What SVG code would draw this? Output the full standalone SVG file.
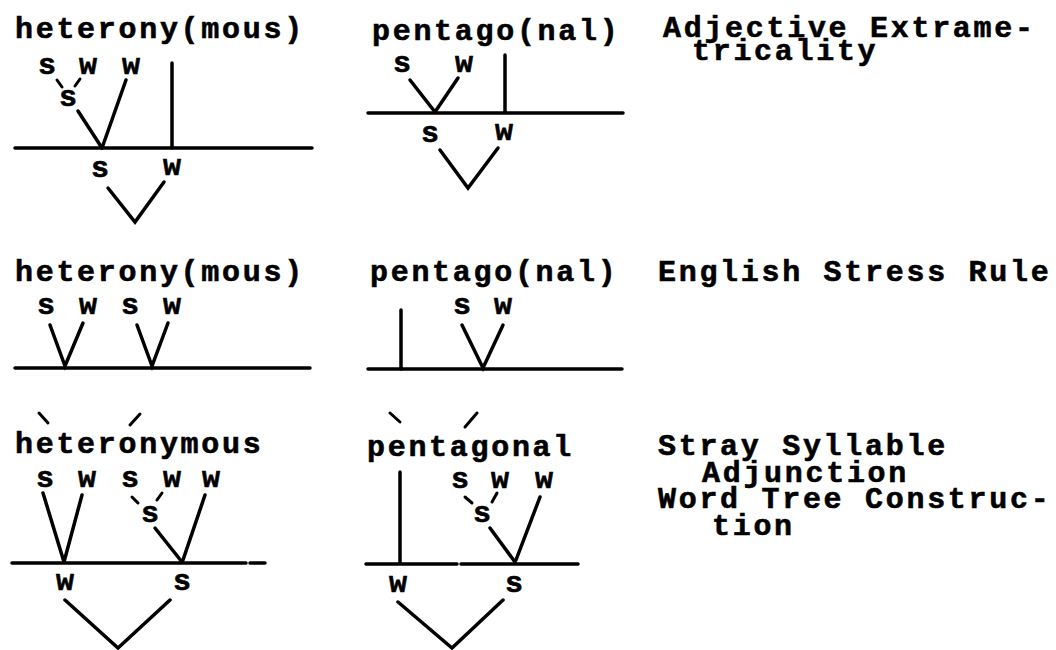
<svg xmlns="http://www.w3.org/2000/svg" width="1056" height="650" viewBox="0 0 1056 650">
<style>
text{font-family:"Liberation Mono","DejaVu Sans Mono",monospace;font-weight:bold;font-size:30px;fill:#000;stroke:#000;stroke-width:0.6;letter-spacing:2.7px}
.l{text-anchor:middle;letter-spacing:0}
line,polyline{stroke:#000;stroke-width:3.5;fill:none;stroke-linecap:round;stroke-linejoin:miter}
.t{stroke-width:3}
</style>
<rect width="1056" height="650" fill="#fff"/>

<g id="tree-heteronymous-aex">
<text x="15" y="38">heterony(mous)</text>
<text class="l" x="47" y="74">s</text><text class="l" x="88" y="74">w</text><text class="l" x="131" y="74">w</text>
<text class="l" x="68" y="106">s</text>
<text class="l" x="100" y="177">s</text><text class="l" x="172" y="175">w</text>
</g>
<g id="tree-pentagonal-aex">
<text x="372" y="40">pentago(nal)</text>
<text class="l" x="402" y="72">s</text><text class="l" x="464" y="72">w</text>
<text class="l" x="430" y="142">s</text><text class="l" x="504" y="140">w</text>
</g>
<g id="label-aex">
<text x="663" y="37">Adjective Extrame-</text>
<text x="692" y="60">tricality</text>
</g>

<g id="tree-heteronymous-esr">
<text x="15" y="281">heterony(mous)</text>
<text class="l" x="46" y="314">s</text><text class="l" x="88" y="314">w</text><text class="l" x="130" y="314">s</text><text class="l" x="172" y="314">w</text>
</g>
<g id="tree-pentagonal-esr">
<text x="370" y="281">pentago(nal)</text>
<text class="l" x="462" y="314">s</text><text class="l" x="503" y="314">w</text>
</g>
<g id="label-esr">
<text x="658" y="281">English Stress Rule</text>
</g>

<g id="tree-heteronymous-ssa">
<text x="15" y="453">heteronymous</text>
<text class="l" x="45" y="487">s</text><text class="l" x="87" y="487">w</text><text class="l" x="130" y="487">s</text><text class="l" x="172" y="487">w</text><text class="l" x="211" y="487">w</text>
<text class="l" x="150" y="522">s</text>
<text class="l" x="65" y="590">w</text><text class="l" x="182" y="590">s</text>
</g>
<g id="tree-pentagonal-ssa">
<text x="367" y="456">pentagonal</text>
<text class="l" x="460" y="488">s</text><text class="l" x="500" y="488">w</text><text class="l" x="544" y="488">w</text>
<text class="l" x="482" y="522">s</text>
<text class="l" x="398" y="592">w</text><text class="l" x="514" y="592">s</text>
</g>
<g id="label-ssa">
<text x="658" y="455">Stray Syllable</text>
<text x="702" y="482">Adjunction</text>
<text x="658" y="508">Word Tree Construc-</text>
<text x="712" y="535">tion</text>
</g>

<g id="connectors">
<!-- row 1 left -->
<line class="t" x1="57" y1="80" x2="62" y2="87"/>
<line class="t" x1="80" y1="79" x2="75" y2="86"/>
<line x1="78" y1="111" x2="102" y2="148"/>
<line x1="126" y1="80" x2="102" y2="148"/>
<line x1="172" y1="63" x2="172" y2="148"/>
<line x1="15" y1="148" x2="312" y2="148"/>
<polyline points="108,188 135,222 164,182"/>
<!-- row 1 mid -->
<line x1="410" y1="80" x2="435" y2="112"/>
<line x1="458" y1="78" x2="435" y2="112"/>
<line x1="505" y1="55" x2="505" y2="112"/>
<line x1="368" y1="113" x2="623" y2="113"/>
<polyline points="440,150 468,188 498,148"/>
<!-- row 2 left -->
<polyline points="50,325 65,366 83,323"/>
<polyline points="137,325 152,366 168,323"/>
<line x1="15" y1="368" x2="310" y2="368"/>
<!-- row 2 mid -->
<line x1="401" y1="310" x2="401" y2="369"/>
<polyline points="462,325 483,368 503,325"/>
<line x1="368" y1="369" x2="622" y2="369"/>
<!-- row 3 left -->
<line class="t" x1="39" y1="413" x2="48" y2="423"/>
<line class="t" x1="130" y1="425" x2="140" y2="414"/>
<line x1="43" y1="493" x2="64" y2="562"/>
<line x1="82" y1="495" x2="64" y2="562"/>
<line class="t" x1="132" y1="497" x2="138" y2="503"/>
<line class="t" x1="162" y1="493" x2="157" y2="500"/>
<line x1="155" y1="528" x2="182" y2="562"/>
<line x1="205" y1="495" x2="183" y2="560"/>
<line x1="12" y1="563" x2="246" y2="563"/>
<line x1="250" y1="563" x2="265" y2="563"/>
<polyline points="65,600 118,648 170,600"/>
<!-- row 3 mid -->
<line class="t" x1="390" y1="413" x2="400" y2="422"/>
<line class="t" x1="465" y1="427" x2="477" y2="413"/>
<line x1="400" y1="472" x2="400" y2="563"/>
<line class="t" x1="465" y1="497" x2="472" y2="503"/>
<line class="t" x1="497" y1="493" x2="492" y2="502"/>
<line x1="490" y1="528" x2="515" y2="562"/>
<line x1="540" y1="497" x2="516" y2="560"/>
<line x1="366" y1="564" x2="457" y2="564"/>
<line x1="461" y1="564" x2="578" y2="564"/>
<polyline points="398,602 452,648 503,600"/>
</g>
</svg>
